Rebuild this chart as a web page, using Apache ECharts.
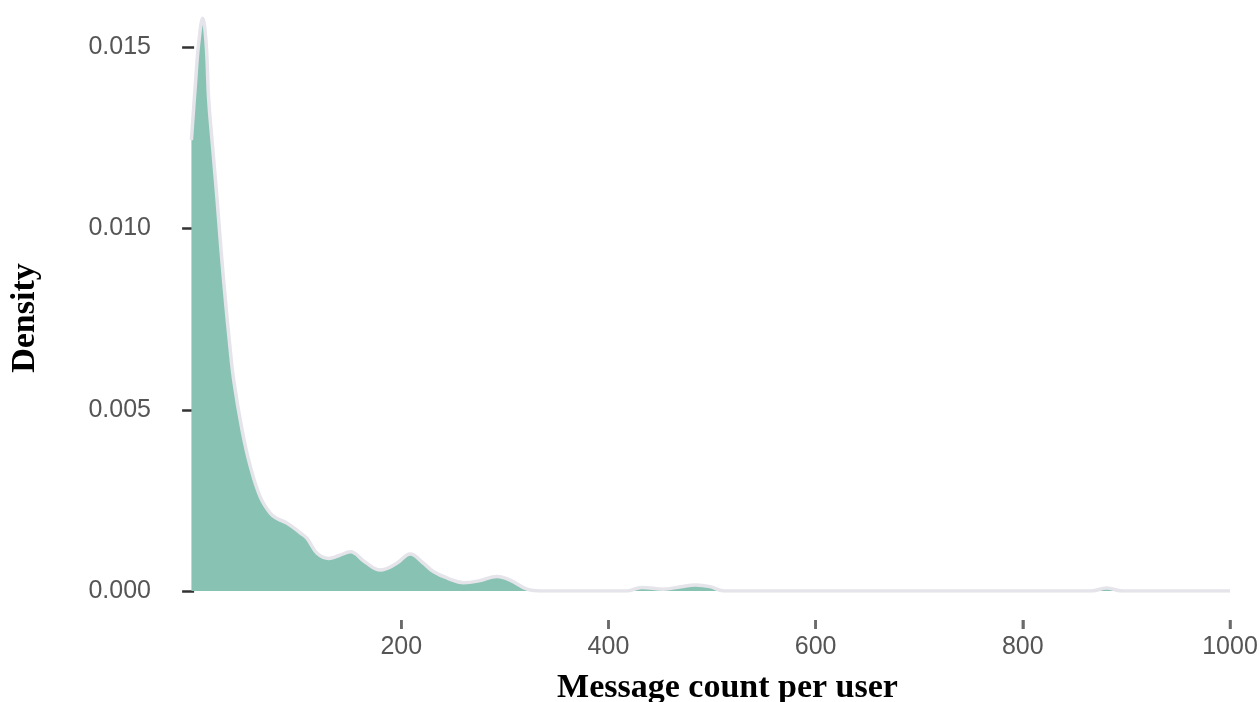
<!DOCTYPE html>
<html>
<head>
<meta charset="utf-8">
<script src="https://cdn.jsdelivr.net/npm/echarts@6/dist/echarts.min.js"></script>
<style>
html,body{margin:0;padding:0;background:#fff;}
#chart{width:1260px;height:702px;}
</style>
</head>
<body>
<div id="chart"></div>
<script>
// Message count per user (x) and estimated density (y)
const messageCounts = [-2.6, 1.3, 4.4, 8.3, 11.6, 14.1, 18, 22.2, 26, 30.2, 34, 38.2, 46.3, 54.3, 63.9, 73.6, 80, 89.8, 102.6, 109, 118.7, 129.9, 140, 150.9, 165, 179.8, 195, 208.8, 220, 231.3, 245, 260.2, 275, 292.5, 305, 321.4, 334, 370, 400, 418, 432, 453, 470, 484, 498, 512, 540, 600, 700, 800, 850, 866, 881, 896, 920, 1000];
const densityValues = [0.01244, 0.0140, 0.0151, 0.0158, 0.0151, 0.01354, 0.0122, 0.01078, 0.0094, 0.00802, 0.0069, 0.00582, 0.00444, 0.00343, 0.00259, 0.00214, 0.00200, 0.00187, 0.00160, 0.00145, 0.00104, 0.00090, 0.00098, 0.00108, 0.00080, 0.00058, 0.00075, 0.00102, 0.00080, 0.00053, 0.00035, 0.00023, 0.00028, 0.00040, 0.00030, 0.00005, 0.0, 0.0, 0.0, 0.0, 0.0001, 0.00005, 0.00012, 0.000165, 0.00012, 0.0, 0.0, 0.0, 0.0, 0.0, 0.0, 0.0, 0.00008, 0.0, 0.0, 0.0];
const xTickValues = [200, 400, 600, 800, 1000];
const yTickValues = [0, 0.005, 0.010, 0.015];
const xTitle = 'Message count per user';
const yTitle = 'Density';

const chart = echarts.init(document.getElementById('chart'), null, {renderer: 'canvas'});
const seriesData = messageCounts.map((x, i) => [x, densityValues[i]]);
// x tick marks sit in a detached strip (y from 0 to 1) under the plot
const tickMarkData = xTickValues.map(v => [v, 0.5]);

const labelFont = 'Liberation Sans, Arial, sans-serif';
const titleStyle = {fontFamily: 'Liberation Serif, Times New Roman, serif', fontWeight: 'bold', fontSize: 34, color: '#000'};

chart.setOption({
  animation: false,
  backgroundColor: '#ffffff',
  grid: [
    {left: 191, right: 30, top: 11, bottom: 111, containLabel: false, outerBoundsMode: 'none'},
    {left: 191, right: 30, top: 620, bottom: 73, containLabel: false, outerBoundsMode: 'none'}
  ],
  xAxis: [{
    gridIndex: 0, type: 'value', min: -3, max: 1000,
    axisLine: {show: false}, splitLine: {show: false},
    axisTick: {show: false}, axisLabel: {show: false}
  }, {
    gridIndex: 1, type: 'value', min: -3, max: 1000,
    axisLine: {show: false},
    axisTick: {show: true, inside: true, length: 9, customValues: xTickValues, lineStyle: {color: '#6a6a6a', width: 2.5}},
    splitLine: {show: false},
    axisLabel: {customValues: xTickValues, fontSize: 25, color: '#555', margin: 6, fontFamily: labelFont, formatter: v => String(v), showMinLabel: true, showMaxLabel: true},
    name: xTitle, nameLocation: 'middle', nameGap: 42,
    nameTextStyle: Object.assign({padding: [0, 0, 0, 34]}, titleStyle)
  }],
  yAxis: [{
    gridIndex: 0, type: 'value', min: 0, max: 0.016,
    axisLine: {show: false}, splitLine: {show: false},
    axisTick: {show: true, customValues: yTickValues, length: 12, lineStyle: {color: '#333', width: 2.5}},
    axisLabel: {customValues: yTickValues, fontSize: 25, color: '#555', margin: 40, fontFamily: labelFont, formatter: v => v.toFixed(3)},
    name: yTitle, nameLocation: 'middle', nameGap: 149, nameRotate: 90,
    nameTextStyle: Object.assign({padding: [0, 34, 0, 0]}, titleStyle)
  }, {
    gridIndex: 1, type: 'value', min: 0, max: 1,
    axisLine: {show: false}, axisTick: {show: false}, axisLabel: {show: false}, splitLine: {show: false}
  }],
  series: [{
    type: 'line',
    xAxisIndex: 0, yAxisIndex: 0,
    data: seriesData,
    smooth: 0.4,
    showSymbol: false,
    symbol: 'none',
    lineStyle: {color: '#e4e4ea', width: 3.5},
    areaStyle: {color: '#88c2b2', opacity: 1, origin: 'start'},
    clip: true
  }, {
    type: 'scatter',
    xAxisIndex: 1, yAxisIndex: 1,
    data: tickMarkData,
    symbol: 'rect',
    symbolSize: [2.5, 9],
    itemStyle: {color: '#6a6a6a', opacity: 1},
    silent: true,
    clip: false
  }]
});
</script>
</body>
</html>
